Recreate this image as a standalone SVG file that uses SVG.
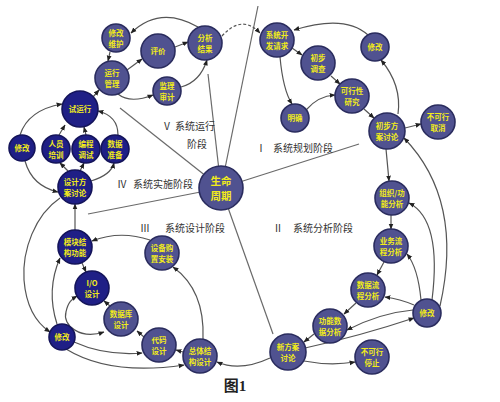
<svg xmlns="http://www.w3.org/2000/svg" width="500" height="402" viewBox="0 0 500 402">
<style>
.l{fill:#505290;stroke:#2a2c5e;stroke-width:1.6}
.d{fill:#1f1f86;stroke:#14145a;stroke-width:1.6}
.t{font-family:"Noto Sans CJK SC","Noto Sans",sans-serif;font-weight:bold;font-size:7.5px;fill:#f2ec1a;text-anchor:middle}
.c{fill:none;stroke:#555;stroke-width:1.2;marker-end:url(#a)}
.r{fill:none;stroke:#6a6a6a;stroke-width:1.2}
.p{font-family:"Noto Sans CJK SC",sans-serif;font-size:10px;fill:#333}
</style>
<defs>
<marker id="a" viewBox="0 0 10 10" refX="9" refY="5" markerWidth="5" markerHeight="5" orient="auto-start-reverse">
<path d="M0,1 L10,5 L0,9 z" fill="#222"/>
</marker>
</defs>
<rect width="500" height="402" fill="#fff"/>
<g id="radials">
<line class="r" x1="221" y1="188" x2="120" y2="108"/>
<line class="r" x1="221" y1="188" x2="208" y2="74"/>
<line class="r" x1="221" y1="188" x2="258" y2="6"/>
<line class="r" x1="221" y1="188" x2="359" y2="144"/>
<line class="r" x1="221" y1="188" x2="273" y2="334"/>
<line class="r" x1="221" y1="188" x2="88" y2="214"/>
</g>
<g id="connectors">
<path class="c" d="M198,27 Q160,5 131,33"/>
<path class="c" d="M110,52 L108,61"/>
<path class="c" d="M127,70 L142,59"/>
<path class="c" d="M175,47 L188,42"/>
<path class="c" d="M118,94 Q130,104 153,95"/>
<path class="c" d="M181,87 Q200,82 207,60"/>
<path class="c" d="M93,97 L99,90"/>
<path class="c" d="M222,36 Q242,14 260,33" stroke-dasharray="3,2"/>
<path class="c" d="M20,135 Q28,110 62,104"/>
<path class="c" d="M25,161 Q32,186 58,192"/>
<path class="c" d="M59,135 L65,125"/>
<path class="c" d="M86,135 L84,127"/>
<path class="c" d="M118,135 Q118,116 98,111"/>
<path class="c" d="M68,171 L60,163"/>
<path class="c" d="M80,171 L84,163"/>
<path class="c" d="M91,181 Q111,175 114,163"/>
<path class="c" d="M75,230 L75,204"/>
<path class="c" d="M60,198 C35,215 22,250 24,280 C26,305 35,322 50,332"/>
<path class="c" d="M57,324 Q46,290 60,258"/>
<path class="c" d="M82,263 L86,272"/>
<path class="c" d="M110,306 L104,301"/>
<path class="c" d="M104,332 C80,340 62,325 66,312 C68,302 72,299 77,296" marker-start="url(#a)"/>
<path class="c" d="M144,337 L137,331"/>
<path class="c" d="M183,352 L176,350"/>
<path class="c" d="M203,339 Q205,290 173,267"/>
<path class="c" d="M150,240 Q120,230 92,241"/>
<path class="c" d="M74,342 Q105,356 142,353"/>
<path class="c" d="M66,349 Q110,376 184,365"/>
<path class="c" d="M270,358 Q240,372 217,362"/>
<path class="c" d="M386,149 L389,181"/>
<path class="c" d="M391,215 L391,229"/>
<path class="c" d="M384,262 L377,275"/>
<path class="c" d="M356,303 L344,314"/>
<path class="c" d="M314,334 L304,342"/>
<path class="c" d="M304,361 Q330,366 355,362"/>
<path class="c" d="M305,348 Q360,336 414,318"/>
<path class="c" d="M413,310 Q380,313 347,330"/>
<path class="c" d="M414,305 Q400,299 385,297"/>
<path class="c" d="M421,300 Q418,268 407,254"/>
<path class="c" d="M432,300 Q442,220 409,203"/>
<path class="c" d="M440,306 Q464,200 404,138"/>
<path class="c" d="M405,128 L421,124"/>
<path class="c" d="M398,114 Q402,85 381,60"/>
<path class="c" d="M368,35 Q345,14 294,30"/>
<path class="c" d="M292,48 L302,55"/>
<path class="c" d="M331,76 L340,84"/>
<path class="c" d="M364,109 L374,118"/>
<path class="c" d="M280,57 Q283,90 292,104"/>
<path class="c" d="M306,110 Q318,96 335,95"/>
</g>
<g id="labels">
<text class="p" x="162" y="130">Ⅴ</text><text class="p" x="175" y="130">系统运行</text>
<text class="p" x="187" y="148">阶段</text>
<text class="p" x="256" y="152">Ⅰ</text><text class="p" x="273" y="152">系统规划阶段</text>
<text class="p" x="117" y="188">Ⅳ</text><text class="p" x="133" y="188">系统实施阶段</text>
<text class="p" x="140" y="232">Ⅲ</text><text class="p" x="165" y="232">系统设计阶段</text>
<text class="p" x="273" y="232">Ⅱ</text><text class="p" x="293" y="232">系统分析阶段</text>
<text x="235" y="391" font-family="Liberation Serif,Noto Sans CJK SC,serif" font-size="15" font-weight="bold" text-anchor="middle" fill="#222">图1</text>
</g>
<g id="n1"><circle class="l" cx="116" cy="38" r="14"/><text class="t" x="116" y="35.5">修改</text><text class="t" x="116" y="46.5">维护</text></g>
<g id="n2"><circle class="l" cx="158" cy="51" r="17"/><text class="t" x="158" y="54">评价</text></g>
<g id="n3"><circle class="l" cx="205" cy="43" r="17"/><text class="t" x="205" y="40.5">分析</text><text class="t" x="205" y="51.5">结果</text></g>
<g id="n4"><circle class="l" cx="112" cy="78" r="17"/><text class="t" x="112" y="75.5">运行</text><text class="t" x="112" y="86.5">管理</text></g>
<g id="n5"><circle class="l" cx="167" cy="91" r="14"/><text class="t" x="167" y="88.5">监理</text><text class="t" x="167" y="99.5">审计</text></g>
<g id="n6"><circle class="d" cx="80" cy="109" r="18"/><text class="t" x="80" y="112">试运行</text></g>
<g id="n7"><circle class="d" cx="22" cy="148" r="13"/><text class="t" x="22" y="151">修改</text></g>
<g id="n8"><circle class="d" cx="56" cy="149" r="14"/><text class="t" x="56" y="146.5">人员</text><text class="t" x="56" y="157.5">培训</text></g>
<g id="n9"><circle class="d" cx="86" cy="149" r="14"/><text class="t" x="86" y="146.5">编程</text><text class="t" x="86" y="157.5">调试</text></g>
<g id="n10"><circle class="d" cx="115" cy="149" r="14"/><text class="t" x="115" y="146.5">数据</text><text class="t" x="115" y="157.5">准备</text></g>
<g id="n11"><circle class="d" cx="75" cy="187" r="17"/><text class="t" x="75" y="184.5">设计方</text><text class="t" x="75" y="195.5">案讨论</text></g>
<g id="n12"><circle class="l" cx="221" cy="188" r="22"/><text class="t" x="221" y="184.5" style="font-size:10.5px">生命</text><text class="t" x="221" y="200" style="font-size:10.5px">周期</text></g>
<g id="n13"><circle class="l" cx="277" cy="40" r="17"/><text class="t" x="277" y="37.5">系统开</text><text class="t" x="277" y="48.5">发请求</text></g>
<g id="n14"><circle class="l" cx="318" cy="63" r="17"/><text class="t" x="318" y="60.5">初步</text><text class="t" x="318" y="71.5">调查</text></g>
<g id="n15"><circle class="l" cx="375" cy="47" r="14"/><text class="t" x="375" y="50">修改</text></g>
<g id="n16"><circle class="l" cx="352" cy="96" r="17"/><text class="t" x="352" y="93.5">可行性</text><text class="t" x="352" y="104.5">研究</text></g>
<g id="n17"><circle class="l" cx="295" cy="118" r="14"/><text class="t" x="295" y="121">明确</text></g>
<g id="n18"><circle class="l" cx="387" cy="131" r="18"/><text class="t" x="387" y="128.5">初步方</text><text class="t" x="387" y="139.5">案讨论</text></g>
<g id="n19"><circle class="l" cx="438" cy="122" r="17"/><text class="t" x="438" y="119.5">不可行</text><text class="t" x="438" y="130.5">取消</text></g>
<g id="n20"><circle class="l" cx="392" cy="198" r="17"/><text class="t" x="392" y="195.5">组织/功</text><text class="t" x="392" y="206.5">能分析</text></g>
<g id="n21"><circle class="l" cx="391" cy="246" r="17"/><text class="t" x="391" y="243.5">业务流</text><text class="t" x="391" y="254.5">程分析</text></g>
<g id="n22"><circle class="l" cx="368" cy="290" r="17"/><text class="t" x="368" y="287.5">数据流</text><text class="t" x="368" y="298.5">程分析</text></g>
<g id="n23"><circle class="l" cx="427" cy="313" r="14"/><text class="t" x="427" y="316">修改</text></g>
<g id="n24"><circle class="l" cx="330" cy="326" r="17"/><text class="t" x="330" y="323.5">功能数</text><text class="t" x="330" y="334.5">据分析</text></g>
<g id="n25"><circle class="l" cx="288" cy="352" r="18"/><text class="t" x="288" y="349.5">新方案</text><text class="t" x="288" y="360.5">讨论</text></g>
<g id="n26"><circle class="l" cx="372" cy="357" r="17"/><text class="t" x="372" y="354.5">不可行</text><text class="t" x="372" y="365.5">停止</text></g>
<g id="n27"><circle class="d" cx="75" cy="247" r="17"/><text class="t" x="75" y="244.5">模块结</text><text class="t" x="75" y="255.5">构功能</text></g>
<g id="n28"><circle class="l" cx="162" cy="253" r="17"/><text class="t" x="162" y="250.5">设备购</text><text class="t" x="162" y="261.5">置安装</text></g>
<g id="n29"><circle class="d" cx="92" cy="288" r="17"/><text class="t" x="92" y="285.5">I/O</text><text class="t" x="92" y="296.5">设计</text></g>
<g id="n30"><circle class="l" cx="121" cy="319" r="17"/><text class="t" x="121" y="316.5">数据库</text><text class="t" x="121" y="327.5">设计</text></g>
<g id="n31"><circle class="l" cx="159" cy="345" r="17"/><text class="t" x="159" y="342.5">代码</text><text class="t" x="159" y="353.5">设计</text></g>
<g id="n32"><circle class="l" cx="200" cy="356" r="17"/><text class="t" x="200" y="353.5">总体结</text><text class="t" x="200" y="364.5">构设计</text></g>
<g id="n33"><circle class="d" cx="62" cy="337" r="13"/><text class="t" x="62" y="340">修改</text></g>
</svg>
